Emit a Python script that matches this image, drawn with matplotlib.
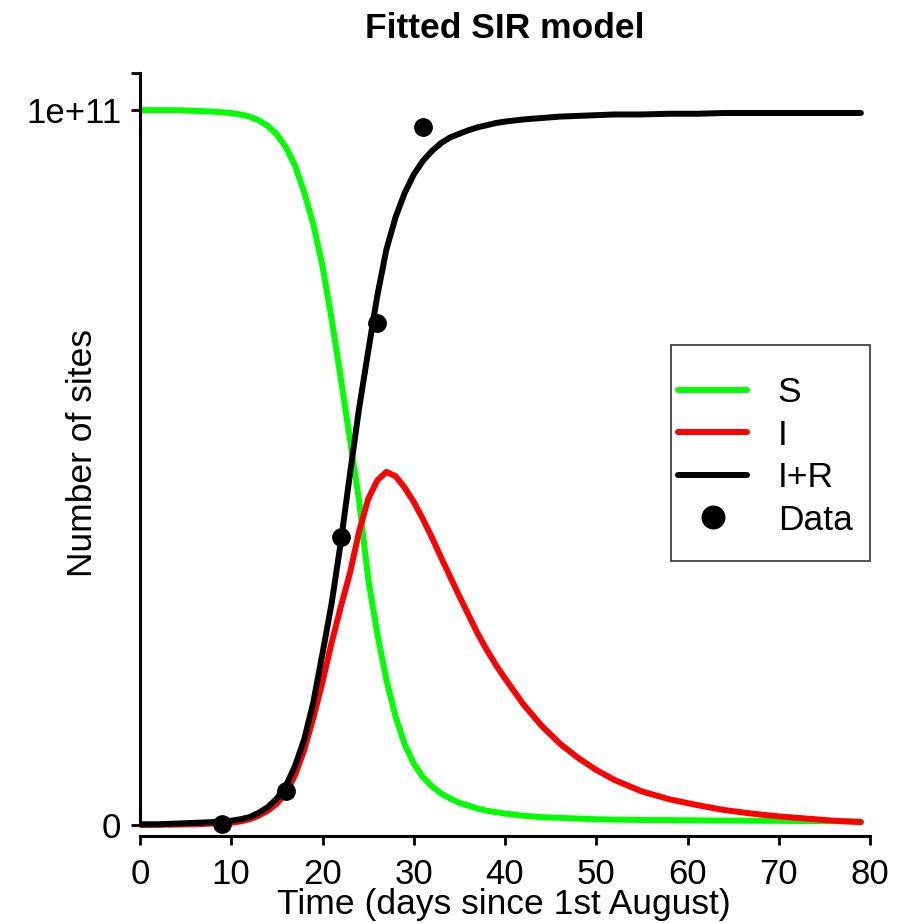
import matplotlib
matplotlib.use('Agg')
import matplotlib.pyplot as plt
from matplotlib.patches import Rectangle
import numpy as np

# model curves, in units of 1e11 sites
days = [0, 2, 4, 6, 8, 10, 11, 12, 13, 14, 15, 16, 17, 18, 19, 20, 21, 22, 23, 24,
        25, 26, 27, 28, 29, 30, 31, 32, 33, 34, 35, 36, 37, 38, 39, 40, 42, 44, 46,
        48, 50, 52, 55, 58, 61, 64, 67, 70, 73, 76, 79]
s_vals = [1.000, 1.000, 1.000, 0.999, 0.998, 0.996, 0.994, 0.991, 0.986, 0.978, 0.966,
          0.948, 0.922, 0.885, 0.840, 0.782, 0.708, 0.625, 0.540, 0.455, 0.345, 0.268,
          0.203, 0.152, 0.113, 0.086, 0.067, 0.054, 0.044, 0.037, 0.031, 0.027, 0.023,
          0.020, 0.018, 0.016, 0.013, 0.011, 0.010, 0.009, 0.008, 0.0075, 0.007, 0.0068,
          0.0065, 0.0062, 0.006, 0.0058, 0.0055, 0.0052, 0.005]
i_vals = [0.000, 0.0003, 0.0006, 0.001, 0.002, 0.003, 0.005, 0.008, 0.013, 0.020, 0.030,
          0.045, 0.070, 0.105, 0.150, 0.200, 0.255, 0.305, 0.352, 0.410, 0.456, 0.482,
          0.494, 0.488, 0.472, 0.452, 0.428, 0.402, 0.374, 0.347, 0.320, 0.294, 0.268,
          0.245, 0.224, 0.205, 0.169, 0.139, 0.114, 0.094, 0.077, 0.063, 0.047, 0.036,
          0.028, 0.021, 0.016, 0.012, 0.009, 0.006, 0.004]
ir_vals = [0.001, 0.001, 0.002, 0.003, 0.004, 0.006, 0.008, 0.011, 0.017, 0.025, 0.037,
           0.055, 0.083, 0.120, 0.172, 0.240, 0.310, 0.395, 0.490, 0.582, 0.662, 0.740,
           0.805, 0.850, 0.884, 0.910, 0.929, 0.943, 0.954, 0.962, 0.967, 0.972, 0.976,
           0.979, 0.982, 0.984, 0.987, 0.989, 0.991, 0.992, 0.993, 0.994, 0.994, 0.995,
           0.995, 0.996, 0.996, 0.996, 0.996, 0.996, 0.996]

data_days = [9, 16, 22, 26, 31]
data_vals = [0.0015, 0.048, 0.403, 0.702, 0.976]

SCALE = 1e11
Y_TOP = 1.052

plt.rcParams['font.family'] = ['Liberation Sans', 'DejaVu Sans']

fig = plt.figure(figsize=(9.15, 9.23), dpi=100)
ax = fig.add_axes([140/915, 87/923, 730/915, 763/923])

x = np.array(days)
ax.plot(x, np.array(s_vals)*SCALE, color='#00FF00', lw=4.3, label='S', solid_capstyle='round')
ax.plot(x, np.array(i_vals)*SCALE, color='#FF0000', lw=4.3, label='I', solid_capstyle='round')
ax.plot(x, np.array(ir_vals)*SCALE, color='black', lw=4.3, label='I+R', solid_capstyle='round')
ax.plot(data_days, np.array(data_vals)*SCALE, 'o', color='black', ms=12.5, label='Data')

ax.set_xlim(0, 80)
ax.set_ylim(-0.0154*SCALE, Y_TOP*SCALE)

for side in ['top', 'right']:
    ax.spines[side].set_visible(False)
for side in ['left', 'bottom']:
    ax.spines[side].set_linewidth(2.2)
ax.spines['bottom'].set_bounds(0, 80)
ax.spines['left'].set_bounds(0, Y_TOP*SCALE)

ax.set_xticks(range(0, 81, 10))
ax.set_yticks([0, SCALE, Y_TOP*SCALE])
ax.set_yticklabels(['0', '1e+11', ''])
ax.tick_params(direction='out', length=6.5, width=2, labelsize=25)
ax.tick_params(axis='x', pad=9)
ax.tick_params(axis='y', pad=7)

ax.set_title('Fitted SIR model', fontsize=25.5, fontweight='bold', pad=25)
fig.text(504/915, 1 - 914/923, 'Time (days since 1st August)', fontsize=25.5,
         ha='center', va='baseline')
fig.text(83/915, 1 - 453/923, 'Number of sites', fontsize=25.5, rotation=90,
         ha='center', va='center')

leg = ax.legend(loc='upper left', bbox_to_anchor=(678/915, 1 - 376/923),
                bbox_transform=fig.transFigure, frameon=False, fontsize=25.5,
                borderpad=0, borderaxespad=0, handlelength=1.95, handletextpad=0.87,
                labelspacing=0.27, markerscale=1.3)
fig.patches.append(Rectangle((671/915, 1 - 561/923), 199/915, 216/923,
                             transform=fig.transFigure, fill=False,
                             edgecolor='#333333', lw=1.2))

plt.savefig('out.png')
plt.close()
